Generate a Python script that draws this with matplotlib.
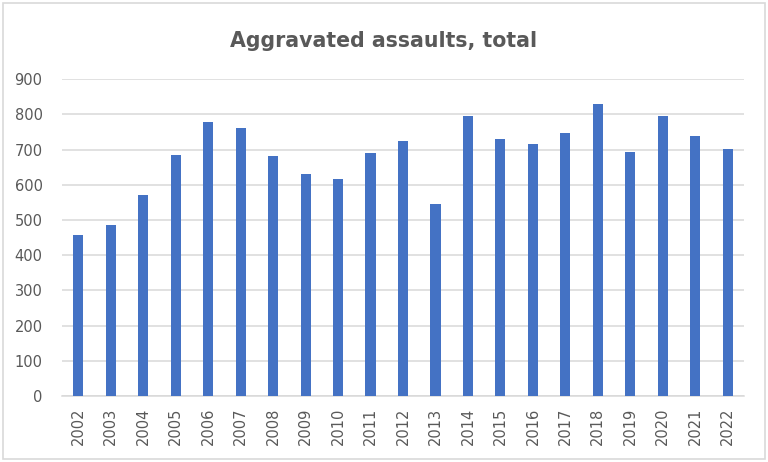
import matplotlib.pyplot as plt
from matplotlib.patches import Rectangle

# values
years = ['2002', '2003', '2004', '2005', '2006', '2007', '2008', '2009', '2010', '2011', '2012',
         '2013', '2014', '2015', '2016', '2017', '2018', '2019', '2020', '2021', '2022']
assaults = [457, 486, 570, 686, 779, 762, 683, 632, 618, 691, 724,
            547, 797, 729, 717, 748, 831, 694, 797, 738, 703]
yticks = [0, 100, 200, 300, 400, 500, 600, 700, 800, 900]

text_grey = '#595959'
grid_grey = '#d9d9d9'
bar_blue = '#4472C4'

fig = plt.figure(figsize=(7.68, 4.62), dpi=100)
ax = fig.add_axes([62 / 768, 1 - 396 / 462, (744 - 62) / 768, (396 - 79.3) / 462])

x = range(len(years))
ax.bar(x, assaults, width=0.31, color=bar_blue, zorder=3)

ax.set_xlim(-0.5, len(years) - 0.5)
ax.set_ylim(0, 900)
ax.set_yticks(yticks)
ax.set_xticks(list(x))
ax.set_xticklabels(years, rotation=90)

ax.grid(axis='y', color=grid_grey, linewidth=1.1, zorder=0)
for side in ['top', 'right', 'left']:
    ax.spines[side].set_visible(False)
ax.spines['bottom'].set_color(grid_grey)
ax.spines['bottom'].set_linewidth(1.1)
ax.tick_params(axis='both', length=0, labelsize=10.5, labelcolor=text_grey)
ax.tick_params(axis='y', pad=14)
ax.tick_params(axis='x', pad=8.5)

fig.text(0.5, 0.899, 'Aggravated assaults, total', ha='center', va='baseline',
         fontsize=14.8, fontweight='bold', color=text_grey)

# light border round the whole chart
fig.patches.append(Rectangle((3 / 768, 3 / 462), 762 / 768, 456 / 462, transform=fig.transFigure,
                             fill=False, edgecolor=grid_grey, linewidth=1.2))

fig.savefig('out.png', dpi=100)
